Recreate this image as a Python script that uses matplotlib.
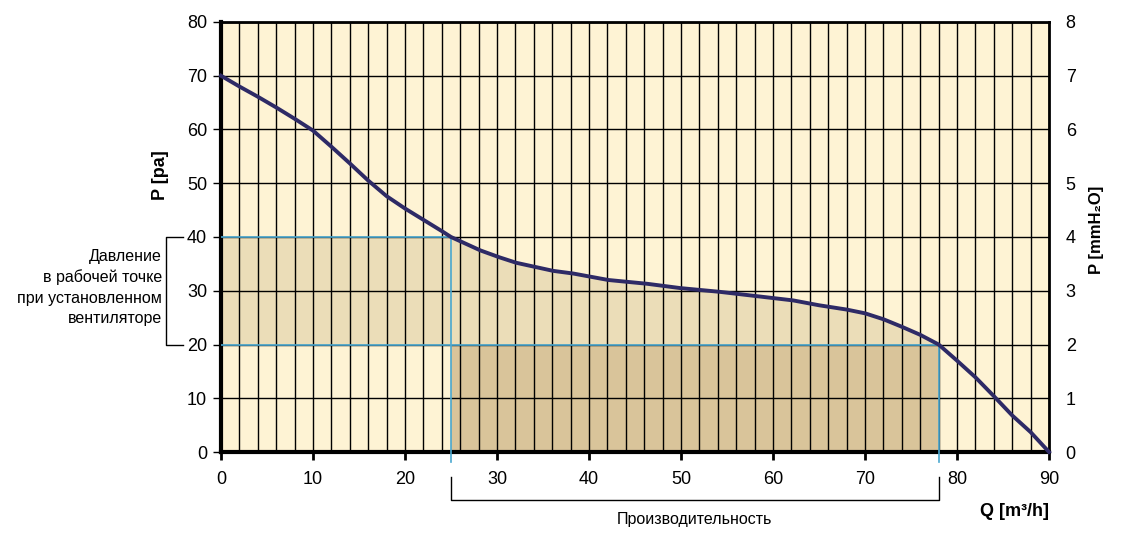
import numpy as np
import matplotlib
matplotlib.use("Agg")
from matplotlib import pyplot as plt

plt.rcParams['font.family'] = ['Liberation Sans Narrow', 'Liberation Sans', 'DejaVu Sans']

# fan curve
q = [0, 2, 4, 6, 8, 10, 12, 14, 16, 18, 20, 22, 24, 25, 28.2, 30.3, 32.1, 36.1,
     38.3, 42.1, 46.3, 49.9, 54.2, 58.2, 62.2, 65, 68, 70, 72, 74, 76, 78, 80,
     82, 84, 86, 88, 89, 90]
p = [70, 68, 66.1, 64.1, 62, 59.8, 56.8, 53.7, 50.5, 47.6, 45.3, 43.2, 41.1, 40,
     37.5, 36.2, 35.2, 33.7, 33.2, 32.0, 31.3, 30.5, 29.8, 29.0, 28.2, 27.3,
     26.5, 25.8, 24.7, 23.3, 21.8, 20, 17, 13.9, 10.4, 6.8, 3.7, 1.85, 0]

# working range
q_work = [25, 78]
p_work = [40, 20]

x_ticks = list(range(0, 91, 10))
y_ticks = list(range(0, 81, 10))
y2_ticks = list(range(0, 9))

bg = '#fef3d4'
light = '#ebddb8'
dark = '#d9c49a'
cyan = '#4aa8d0'
navy = '#2e2a66'

fig = plt.figure(figsize=(11.24, 5.44), dpi=100)
ax = fig.add_axes([0.1966, 0.1691, 0.7367, 0.7905])
ax.set_facecolor(bg)

qa = np.array(q)
pa = np.array(p)
# light band: between lower working pressure and min(curve, upper working pressure)
mask = qa <= q_work[1]
ax.fill_between(qa[mask], p_work[1], np.minimum(pa[mask], p_work[0]),
                color=light, lw=0, zorder=1)
# dark box: working flow range below lower working pressure
ax.fill_between(q_work, 0, p_work[1], color=dark, lw=0, zorder=1)

ax.set_xlim(0, 90)
ax.set_ylim(0, 80)
ax.set_xticks(x_ticks)
ax.set_xticks(np.arange(0, 91, 2), minor=True)
ax.set_yticks(y_ticks)
ax.grid(True, which='both', axis='x', color='black', lw=1.0, zorder=2)
ax.grid(True, which='major', axis='y', color='black', lw=1.0, zorder=2)
ax.set_axisbelow(False)
ax.tick_params(axis='x', which='major', direction='out', length=6, width=2,
               labelsize=13, pad=8)
ax.tick_params(axis='x', which='minor', length=0)
ax.tick_params(axis='y', direction='out', length=6, width=1, labelsize=13, pad=4)
for s in ['left', 'bottom']:
    ax.spines[s].set_linewidth(3)
for s in ['top', 'right']:
    ax.spines[s].set_linewidth(2)

# working point guide lines
ax.plot([0, q_work[0]], [p_work[0], p_work[0]], color=cyan, lw=1.2, zorder=3)
ax.plot([0, q_work[1]], [p_work[1], p_work[1]], color=cyan, lw=1.2, zorder=3)
ax.plot([q_work[0], q_work[0]], [-1.8, p_work[0]], color=cyan, lw=1.2, zorder=3,
        clip_on=False)
ax.plot([q_work[1], q_work[1]], [-1.8, p_work[1]], color=cyan, lw=1.2, zorder=3,
        clip_on=False)

ax.plot(q, p, color=navy, lw=2.8, zorder=4, clip_on=False,
        solid_joinstyle='round')

# right axis in mmH2O
ax2 = ax.twinx()
ax2.set_ylim(0, 8)
ax2.set_yticks(y2_ticks)
ax2.tick_params(axis='y', length=0, labelsize=13, pad=12)
for s in ax2.spines.values():
    s.set_visible(False)

# bracket on the left
ax.plot([-4.1, -6.0, -6.0, -4.1], [p_work[0], p_work[0], p_work[1], p_work[1]],
        color='black', lw=1, clip_on=False)
ax.text(-6.4, 30.6, 'Давление\nв рабочей точке\nпри установленном\nвентиляторе',
        ha='right', va='center', fontsize=11.5, linespacing=1.45)

# bracket at the bottom
ax.plot([q_work[0], q_work[0], q_work[1], q_work[1]], [-4.6, -8.9, -8.9, -4.6],
        color='black', lw=1, clip_on=False)
ax.text(sum(q_work) / 2, -12.6, 'Производительность', ha='center', va='center',
        fontsize=11.5)

fig.text(160 / 1124, 1 - 175 / 544, 'P [pa]', rotation=90, ha='center',
         va='center', fontsize=13, fontweight='bold')
fig.text(1015 / 1124, 1 - 512 / 544, 'Q [m³/h]', ha='center', va='center',
         fontsize=13, fontweight='bold')
fig.text(1097 / 1124, 1 - 230 / 544, 'P [mmH₂O]', rotation=90, ha='center',
         va='center', fontsize=12, fontweight='bold')

fig.savefig('out.png', dpi=100, facecolor='white')
